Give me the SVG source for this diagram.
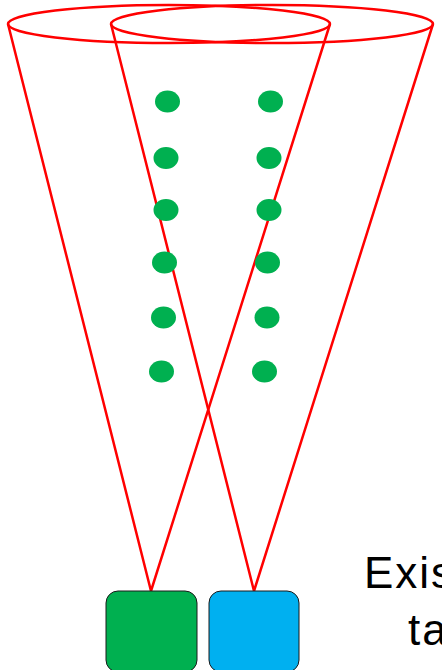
<svg xmlns="http://www.w3.org/2000/svg" width="442" height="670" viewBox="0 0 442 670">
<style>
.cone{fill:none;stroke:#FF0000;stroke-width:2.5;stroke-linejoin:round}
.dot{fill:#00B050}
.box{stroke:#1a1a1a;stroke-width:1}
.lbl{font-family:"Liberation Sans",Arial,sans-serif;font-size:44px;fill:#000;letter-spacing:2px}
</style>
<rect width="442" height="670" fill="#fff"/>
<g id="cone-green">
<ellipse class="cone" cx="169" cy="24" rx="161" ry="19"/>
<polyline class="cone" points="8,24 151,591 330,24"/>
</g>
<g id="cone-blue">
<ellipse class="cone" cx="272" cy="24" rx="161" ry="19"/>
<polyline class="cone" points="111,24 254,591 433,24"/>
</g>
<g id="dots">
<ellipse class="dot" cx="167.5" cy="101.5" rx="12.5" ry="11"/>
<ellipse class="dot" cx="270.5" cy="101.5" rx="12.5" ry="11"/>
<ellipse class="dot" cx="166" cy="158" rx="12.5" ry="11"/>
<ellipse class="dot" cx="269" cy="158" rx="12.5" ry="11"/>
<ellipse class="dot" cx="166" cy="210" rx="12.5" ry="11"/>
<ellipse class="dot" cx="269" cy="210" rx="12.5" ry="11"/>
<ellipse class="dot" cx="164.5" cy="262.5" rx="12.5" ry="11"/>
<ellipse class="dot" cx="267.5" cy="262.5" rx="12.5" ry="11"/>
<ellipse class="dot" cx="163.5" cy="317.5" rx="12.5" ry="11"/>
<ellipse class="dot" cx="267" cy="317.5" rx="12.5" ry="11"/>
<ellipse class="dot" cx="161.5" cy="371.5" rx="12.5" ry="11"/>
<ellipse class="dot" cx="264.5" cy="371.5" rx="12.5" ry="11"/>
</g>
<g id="box-green">
<rect class="box" x="106" y="591" width="91" height="81" rx="12" fill="#00B050"/>
</g>
<g id="box-blue">
<rect class="box" x="209" y="591" width="90" height="81" rx="12" fill="#00B0F0"/>
</g>
<g id="label">
<text class="lbl" x="364" y="588">Exis</text>
<text class="lbl" x="408" y="645">ta</text>
</g>
</svg>
